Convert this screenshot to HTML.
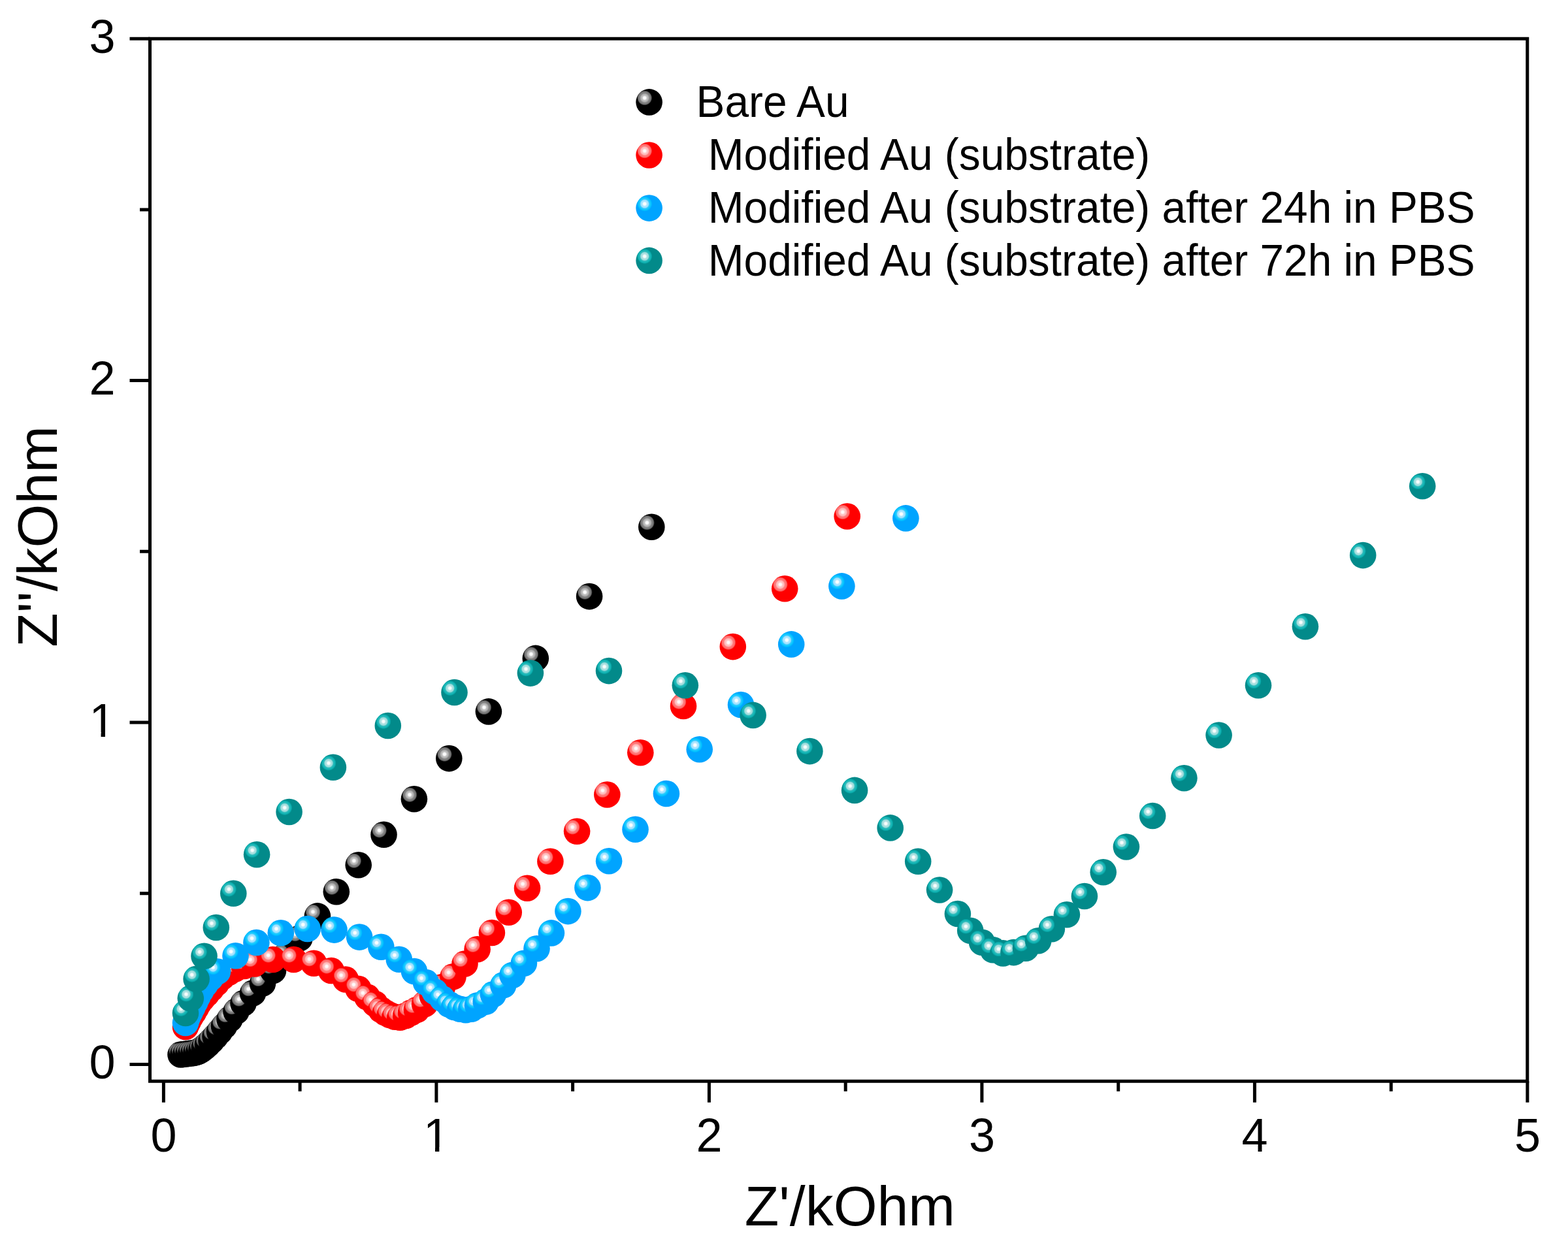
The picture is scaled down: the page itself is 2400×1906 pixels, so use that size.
<!DOCTYPE html>
<html><head><meta charset="utf-8"><title>Nyquist plot</title>
<style>
html,body{margin:0;padding:0;background:#fff;}
svg{display:block;}
.t{font-family:"Liberation Sans",Arial,sans-serif;fill:#000;}
</style></head>
<body>
<svg width="2400" height="1906" viewBox="0 0 2400 1906">
<defs>
<radialGradient id="gk" cx="0.33" cy="0.34" fx="0.33" fy="0.34" r="0.285">
 <stop offset="0" stop-color="#ffffff"/><stop offset="0.18" stop-color="#f8f8f8"/><stop offset="0.32" stop-color="#c4c4c4"/><stop offset="0.5" stop-color="#b0b0b0"/>
 <stop offset="0.62" stop-color="#888888"/><stop offset="0.85" stop-color="#707070"/><stop offset="0.95" stop-color="#202020"/><stop offset="1" stop-color="#000000"/>
</radialGradient>
<radialGradient id="gr" cx="0.33" cy="0.34" fx="0.33" fy="0.34" r="0.285">
 <stop offset="0" stop-color="#ffffff"/><stop offset="0.18" stop-color="#fff4f4"/><stop offset="0.32" stop-color="#ffc8c8"/><stop offset="0.5" stop-color="#ffb8b8"/>
 <stop offset="0.62" stop-color="#ff8080"/><stop offset="0.85" stop-color="#ff6a6a"/><stop offset="0.95" stop-color="#ff2020"/><stop offset="1" stop-color="#ff0000"/>
</radialGradient>
<radialGradient id="gb" cx="0.33" cy="0.34" fx="0.33" fy="0.34" r="0.285">
 <stop offset="0" stop-color="#ffffff"/><stop offset="0.18" stop-color="#f4fcff"/><stop offset="0.32" stop-color="#b0e6ff"/><stop offset="0.5" stop-color="#a0e0ff"/>
 <stop offset="0.62" stop-color="#30ccff"/><stop offset="0.85" stop-color="#00c4ff"/><stop offset="0.95" stop-color="#00b0ff"/><stop offset="1" stop-color="#00a4ff"/>
</radialGradient>
<radialGradient id="gt" cx="0.33" cy="0.34" fx="0.33" fy="0.34" r="0.285">
 <stop offset="0" stop-color="#ffffff"/><stop offset="0.18" stop-color="#f0fafa"/><stop offset="0.32" stop-color="#b0e2e2"/><stop offset="0.5" stop-color="#a0dcdc"/>
 <stop offset="0.62" stop-color="#30bcbc"/><stop offset="0.85" stop-color="#0cb2b2"/><stop offset="0.95" stop-color="#069c9c"/><stop offset="1" stop-color="#028a8a"/>
</radialGradient>
<clipPath id="c1x" clipPathUnits="userSpaceOnUse"><rect x="627.9" y="1683.0" width="112.0" height="73.42"/><rect x="665.98" y="1755.62" width="6.36" height="12.38"/></clipPath><clipPath id="c1y" clipPathUnits="userSpaceOnUse"><rect x="116.5" y="1047.7" width="112.0" height="73.42"/><rect x="154.56" y="1120.32" width="6.36" height="12.38"/></clipPath></defs>
<rect width="2400" height="1906" fill="#fff"/>
<circle cx="276.5" cy="1614.5" r="20.3" fill="url(#gk)"/><circle cx="280.5" cy="1614.0" r="20.3" fill="url(#gk)"/><circle cx="284.5" cy="1613.5" r="20.3" fill="url(#gk)"/><circle cx="288.5" cy="1613.0" r="20.3" fill="url(#gk)"/><circle cx="292.5" cy="1612.5" r="20.3" fill="url(#gk)"/><circle cx="296.5" cy="1612.0" r="20.3" fill="url(#gk)"/><circle cx="300.5" cy="1611.0" r="20.3" fill="url(#gk)"/><circle cx="304.5" cy="1609.5" r="20.3" fill="url(#gk)"/><circle cx="308.5" cy="1607.0" r="20.3" fill="url(#gk)"/><circle cx="313.0" cy="1603.5" r="20.3" fill="url(#gk)"/><circle cx="318.0" cy="1599.0" r="20.3" fill="url(#gk)"/><circle cx="323.5" cy="1593.5" r="20.3" fill="url(#gk)"/><circle cx="329.5" cy="1587.0" r="20.3" fill="url(#gk)"/><circle cx="336.0" cy="1579.5" r="20.3" fill="url(#gk)"/><circle cx="343.0" cy="1571.0" r="20.3" fill="url(#gk)"/><circle cx="351.5" cy="1560.5" r="20.3" fill="url(#gk)"/><circle cx="361.5" cy="1548.5" r="20.3" fill="url(#gk)"/><circle cx="372.5" cy="1536.0" r="20.3" fill="url(#gk)"/><circle cx="387.0" cy="1520.5" r="20.3" fill="url(#gk)"/><circle cx="402.0" cy="1505.4" r="20.3" fill="url(#gk)"/><circle cx="418.0" cy="1486.0" r="20.3" fill="url(#gk)"/><circle cx="436.5" cy="1463.5" r="20.3" fill="url(#gk)"/><circle cx="458.5" cy="1436.5" r="20.3" fill="url(#gk)"/><circle cx="485.9" cy="1402.4" r="20.3" fill="url(#gk)"/><circle cx="514.8" cy="1365.2" r="20.3" fill="url(#gk)"/><circle cx="548.7" cy="1324.3" r="20.3" fill="url(#gk)"/><circle cx="587.5" cy="1277.8" r="20.3" fill="url(#gk)"/><circle cx="633.9" cy="1223.2" r="20.3" fill="url(#gk)"/><circle cx="687.3" cy="1161.1" r="20.3" fill="url(#gk)"/><circle cx="747.9" cy="1089.4" r="20.3" fill="url(#gk)"/><circle cx="819.8" cy="1007.9" r="20.3" fill="url(#gk)"/><circle cx="902.1" cy="913.1" r="20.3" fill="url(#gk)"/><circle cx="997.3" cy="806.7" r="20.3" fill="url(#gk)"/><circle cx="284.0" cy="1572.0" r="20.3" fill="url(#gr)"/><circle cx="285.5" cy="1568.0" r="20.3" fill="url(#gr)"/><circle cx="288.0" cy="1563.5" r="20.3" fill="url(#gr)"/><circle cx="291.5" cy="1557.0" r="20.3" fill="url(#gr)"/><circle cx="296.0" cy="1550.0" r="20.3" fill="url(#gr)"/><circle cx="300.0" cy="1543.0" r="20.3" fill="url(#gr)"/><circle cx="304.0" cy="1536.0" r="20.3" fill="url(#gr)"/><circle cx="309.5" cy="1529.0" r="20.3" fill="url(#gr)"/><circle cx="316.0" cy="1522.0" r="20.3" fill="url(#gr)"/><circle cx="323.0" cy="1514.0" r="20.3" fill="url(#gr)"/><circle cx="331.0" cy="1505.5" r="20.3" fill="url(#gr)"/><circle cx="340.0" cy="1496.0" r="20.3" fill="url(#gr)"/><circle cx="350.0" cy="1489.0" r="20.3" fill="url(#gr)"/><circle cx="360.0" cy="1483.5" r="20.3" fill="url(#gr)"/><circle cx="374.0" cy="1479.0" r="20.3" fill="url(#gr)"/><circle cx="389.8" cy="1475.5" r="20.3" fill="url(#gr)"/><circle cx="417.5" cy="1469.0" r="20.3" fill="url(#gr)"/><circle cx="449.4" cy="1469.0" r="20.3" fill="url(#gr)"/><circle cx="480.3" cy="1474.7" r="20.3" fill="url(#gr)"/><circle cx="506.9" cy="1486.0" r="20.3" fill="url(#gr)"/><circle cx="529.0" cy="1499.5" r="20.3" fill="url(#gr)"/><circle cx="548.3" cy="1513.8" r="20.3" fill="url(#gr)"/><circle cx="562.2" cy="1526.6" r="20.3" fill="url(#gr)"/><circle cx="573.9" cy="1536.7" r="20.3" fill="url(#gr)"/><circle cx="583.3" cy="1546.1" r="20.3" fill="url(#gr)"/><circle cx="590.0" cy="1550.6" r="20.3" fill="url(#gr)"/><circle cx="596.7" cy="1553.9" r="20.3" fill="url(#gr)"/><circle cx="604.5" cy="1556.7" r="20.3" fill="url(#gr)"/><circle cx="612.3" cy="1557.8" r="20.3" fill="url(#gr)"/><circle cx="621.2" cy="1555.0" r="20.3" fill="url(#gr)"/><circle cx="629.0" cy="1550.6" r="20.3" fill="url(#gr)"/><circle cx="637.9" cy="1546.1" r="20.3" fill="url(#gr)"/><circle cx="650.1" cy="1537.2" r="20.3" fill="url(#gr)"/><circle cx="662.0" cy="1525.0" r="20.3" fill="url(#gr)"/><circle cx="677.0" cy="1511.0" r="20.3" fill="url(#gr)"/><circle cx="693.5" cy="1495.3" r="20.3" fill="url(#gr)"/><circle cx="711.5" cy="1475.5" r="20.3" fill="url(#gr)"/><circle cx="730.6" cy="1453.2" r="20.3" fill="url(#gr)"/><circle cx="752.9" cy="1428.0" r="20.3" fill="url(#gr)"/><circle cx="778.7" cy="1396.7" r="20.3" fill="url(#gr)"/><circle cx="807.0" cy="1359.7" r="20.3" fill="url(#gr)"/><circle cx="842.4" cy="1318.8" r="20.3" fill="url(#gr)"/><circle cx="883.1" cy="1272.8" r="20.3" fill="url(#gr)"/><circle cx="929.3" cy="1216.5" r="20.3" fill="url(#gr)"/><circle cx="980.3" cy="1152.2" r="20.3" fill="url(#gr)"/><circle cx="1046.0" cy="1081.0" r="20.3" fill="url(#gr)"/><circle cx="1121.8" cy="990.1" r="20.3" fill="url(#gr)"/><circle cx="1201.2" cy="901.3" r="20.3" fill="url(#gr)"/><circle cx="1296.7" cy="790.5" r="20.3" fill="url(#gr)"/><circle cx="284.0" cy="1566.0" r="20.3" fill="url(#gb)"/><circle cx="285.5" cy="1561.0" r="20.3" fill="url(#gb)"/><circle cx="288.0" cy="1555.0" r="20.3" fill="url(#gb)"/><circle cx="291.0" cy="1549.0" r="20.3" fill="url(#gb)"/><circle cx="294.5" cy="1542.0" r="20.3" fill="url(#gb)"/><circle cx="298.5" cy="1534.0" r="20.3" fill="url(#gb)"/><circle cx="302.5" cy="1525.5" r="20.3" fill="url(#gb)"/><circle cx="307.5" cy="1516.5" r="20.3" fill="url(#gb)"/><circle cx="314.0" cy="1507.0" r="20.3" fill="url(#gb)"/><circle cx="322.0" cy="1497.5" r="20.3" fill="url(#gb)"/><circle cx="333.0" cy="1487.5" r="20.3" fill="url(#gb)"/><circle cx="360.5" cy="1463.3" r="20.3" fill="url(#gb)"/><circle cx="392.4" cy="1443.0" r="20.3" fill="url(#gb)"/><circle cx="429.8" cy="1428.3" r="20.3" fill="url(#gb)"/><circle cx="470.7" cy="1422.0" r="20.3" fill="url(#gb)"/><circle cx="511.5" cy="1423.6" r="20.3" fill="url(#gb)"/><circle cx="550.1" cy="1434.6" r="20.3" fill="url(#gb)"/><circle cx="583.3" cy="1449.8" r="20.3" fill="url(#gb)"/><circle cx="610.8" cy="1468.7" r="20.3" fill="url(#gb)"/><circle cx="634.0" cy="1487.0" r="20.3" fill="url(#gb)"/><circle cx="651.9" cy="1504.0" r="20.3" fill="url(#gb)"/><circle cx="665.5" cy="1518.2" r="20.3" fill="url(#gb)"/><circle cx="677.0" cy="1529.0" r="20.3" fill="url(#gb)"/><circle cx="687.6" cy="1537.8" r="20.3" fill="url(#gb)"/><circle cx="695.3" cy="1542.0" r="20.3" fill="url(#gb)"/><circle cx="704.4" cy="1544.8" r="20.3" fill="url(#gb)"/><circle cx="712.9" cy="1546.2" r="20.3" fill="url(#gb)"/><circle cx="721.3" cy="1544.8" r="20.3" fill="url(#gb)"/><circle cx="731.1" cy="1539.2" r="20.3" fill="url(#gb)"/><circle cx="743.7" cy="1533.6" r="20.3" fill="url(#gb)"/><circle cx="754.9" cy="1522.3" r="20.3" fill="url(#gb)"/><circle cx="770.3" cy="1508.3" r="20.3" fill="url(#gb)"/><circle cx="784.4" cy="1492.9" r="20.3" fill="url(#gb)"/><circle cx="801.9" cy="1474.7" r="20.3" fill="url(#gb)"/><circle cx="821.5" cy="1452.2" r="20.3" fill="url(#gb)"/><circle cx="843.9" cy="1428.4" r="20.3" fill="url(#gb)"/><circle cx="869.4" cy="1395.1" r="20.3" fill="url(#gb)"/><circle cx="899.4" cy="1359.1" r="20.3" fill="url(#gb)"/><circle cx="932.1" cy="1318.2" r="20.3" fill="url(#gb)"/><circle cx="972.5" cy="1269.7" r="20.3" fill="url(#gb)"/><circle cx="1019.9" cy="1215.0" r="20.3" fill="url(#gb)"/><circle cx="1070.7" cy="1147.2" r="20.3" fill="url(#gb)"/><circle cx="1134.0" cy="1079.0" r="20.3" fill="url(#gb)"/><circle cx="1211.2" cy="986.4" r="20.3" fill="url(#gb)"/><circle cx="1288.4" cy="897.4" r="20.3" fill="url(#gb)"/><circle cx="1386.4" cy="793.4" r="20.3" fill="url(#gb)"/><circle cx="284.0" cy="1551.0" r="20.3" fill="url(#gt)"/><circle cx="291.8" cy="1528.6" r="20.3" fill="url(#gt)"/><circle cx="300.6" cy="1498.8" r="20.3" fill="url(#gt)"/><circle cx="312.5" cy="1463.8" r="20.3" fill="url(#gt)"/><circle cx="330.8" cy="1420.0" r="20.3" fill="url(#gt)"/><circle cx="357.3" cy="1367.8" r="20.3" fill="url(#gt)"/><circle cx="393.1" cy="1308.2" r="20.3" fill="url(#gt)"/><circle cx="442.6" cy="1243.0" r="20.3" fill="url(#gt)"/><circle cx="509.9" cy="1174.8" r="20.3" fill="url(#gt)"/><circle cx="593.8" cy="1111.0" r="20.3" fill="url(#gt)"/><circle cx="695.5" cy="1060.0" r="20.3" fill="url(#gt)"/><circle cx="811.9" cy="1030.6" r="20.3" fill="url(#gt)"/><circle cx="932.0" cy="1027.1" r="20.3" fill="url(#gt)"/><circle cx="1048.8" cy="1049.3" r="20.3" fill="url(#gt)"/><circle cx="1152.6" cy="1094.9" r="20.3" fill="url(#gt)"/><circle cx="1239.4" cy="1150.1" r="20.3" fill="url(#gt)"/><circle cx="1308.1" cy="1209.9" r="20.3" fill="url(#gt)"/><circle cx="1362.7" cy="1267.4" r="20.3" fill="url(#gt)"/><circle cx="1405.2" cy="1318.8" r="20.3" fill="url(#gt)"/><circle cx="1438.1" cy="1362.5" r="20.3" fill="url(#gt)"/><circle cx="1465.9" cy="1399.0" r="20.3" fill="url(#gt)"/><circle cx="1485.2" cy="1424.7" r="20.3" fill="url(#gt)"/><circle cx="1503.1" cy="1442.7" r="20.3" fill="url(#gt)"/><circle cx="1519.9" cy="1454.3" r="20.3" fill="url(#gt)"/><circle cx="1535.3" cy="1459.4" r="20.3" fill="url(#gt)"/><circle cx="1551.5" cy="1458.1" r="20.3" fill="url(#gt)"/><circle cx="1570.0" cy="1451.7" r="20.3" fill="url(#gt)"/><circle cx="1589.2" cy="1440.2" r="20.3" fill="url(#gt)"/><circle cx="1609.8" cy="1422.2" r="20.3" fill="url(#gt)"/><circle cx="1632.9" cy="1400.3" r="20.3" fill="url(#gt)"/><circle cx="1659.9" cy="1372.0" r="20.3" fill="url(#gt)"/><circle cx="1688.7" cy="1335.3" r="20.3" fill="url(#gt)"/><circle cx="1723.9" cy="1296.5" r="20.3" fill="url(#gt)"/><circle cx="1764.2" cy="1249.0" r="20.3" fill="url(#gt)"/><circle cx="1812.4" cy="1191.2" r="20.3" fill="url(#gt)"/><circle cx="1865.6" cy="1125.5" r="20.3" fill="url(#gt)"/><circle cx="1926.0" cy="1049.3" r="20.3" fill="url(#gt)"/><circle cx="1997.9" cy="959.3" r="20.3" fill="url(#gt)"/><circle cx="2086.2" cy="850.1" r="20.3" fill="url(#gt)"/><circle cx="2177.2" cy="744.2" r="20.3" fill="url(#gt)"/>
<path d="M229.5,59.3 H2337.8 V1655.2 H229.5 Z" fill="none" stroke="#000" stroke-width="5" stroke-linejoin="miter" stroke-linecap="square"/><path d="M250.4,1655.2 V1687.7 M459.1,1655.2 V1670.7 M667.9,1655.2 V1687.7 M876.6,1655.2 V1670.7 M1085.4,1655.2 V1687.7 M1294.2,1655.2 V1670.7 M1502.9,1655.2 V1687.7 M1711.7,1655.2 V1670.7 M1920.4,1655.2 V1687.7 M2129.2,1655.2 V1670.7 M2337.9,1655.2 V1687.7 M229.5,1629.4 H198.5 M229.5,1367.7 H214.0 M229.5,1106.0 H198.5 M229.5,844.3 H214.0 M229.5,582.6 H198.5 M229.5,320.9 H214.0 M229.5,59.2 H198.5" stroke="#000" stroke-width="5" fill="none"/><text x="250.4" y="1763" text-anchor="middle" class="t" font-size="72">0</text><text x="667.9" y="1763" text-anchor="middle" class="t" font-size="72" clip-path="url(#c1x)">1</text><text x="1085.4" y="1763" text-anchor="middle" class="t" font-size="72">2</text><text x="1502.9" y="1763" text-anchor="middle" class="t" font-size="72">3</text><text x="1920.4" y="1763" text-anchor="middle" class="t" font-size="72">4</text><text x="2337.9" y="1763" text-anchor="middle" class="t" font-size="72">5</text><text x="176.5" y="1651.1" text-anchor="end" class="t" font-size="72">0</text><text x="176.5" y="1127.7" text-anchor="end" class="t" font-size="72" clip-path="url(#c1y)">1</text><text x="176.5" y="604.3" text-anchor="end" class="t" font-size="72">2</text><text x="176.5" y="80.9" text-anchor="end" class="t" font-size="72">3</text><text transform="translate(1139.8,1875.5)" x="0" y="0" class="t" font-size="86">Z'/kOhm</text><text transform="translate(86.5,990.7) rotate(-90)" x="0" y="0" class="t" font-size="86">Z''/kOhm</text><circle cx="993.6" cy="156.4" r="20.3" fill="url(#gk)"/><text transform="translate(1065.5,179.3) scale(1,1.05)" x="0" y="0" class="t" font-size="65.8">Bare Au</text><circle cx="993.6" cy="237.5" r="20.3" fill="url(#gr)"/><text transform="translate(1065.5,260.4) scale(1,1.05)" x="0" y="0" class="t" font-size="65.8"> Modified Au (substrate)</text><circle cx="993.6" cy="318.6" r="20.3" fill="url(#gb)"/><text transform="translate(1065.5,341.0) scale(1,1.05)" x="0" y="0" class="t" font-size="65.8"> Modified Au (substrate) after 24h in PBS</text><circle cx="993.6" cy="398.9" r="20.3" fill="url(#gt)"/><text transform="translate(1065.5,421.8) scale(1,1.05)" x="0" y="0" class="t" font-size="65.8"> Modified Au (substrate) after 72h in PBS</text>
</svg>
</body></html>
